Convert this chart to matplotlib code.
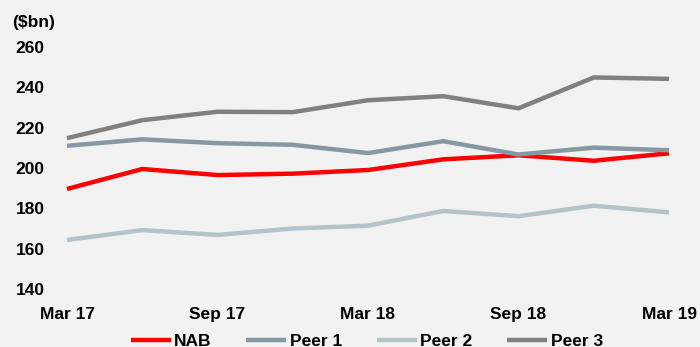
import numpy as np
import matplotlib.pyplot as plt

plt.rcParams['font.family'] = ['Liberation Sans', 'DejaVu Sans']
plt.rcParams['font.weight'] = 'bold'

# 데이터
periods = ['Mar 17', 'Jun 17', 'Sep 17', 'Dec 17', 'Mar 18', 'Jun 18', 'Sep 18', 'Dec 18', 'Mar 19']
nab = [189.6, 199.5, 196.5, 197.2, 199.0, 204.3, 206.3, 203.6, 207.3]
peer1 = [211.0, 214.2, 212.3, 211.5, 207.4, 213.3, 206.7, 210.1, 208.8]
peer2 = [164.3, 169.2, 166.8, 170.0, 171.4, 178.7, 176.1, 181.3, 178.0]
peer3 = [214.8, 223.7, 227.9, 227.7, 233.6, 235.6, 229.6, 244.9, 244.2]
tick_labels = ['Mar 17', 'Sep 17', 'Mar 18', 'Sep 18', 'Mar 19']
y_ticks = [140, 160, 180, 200, 220, 240, 260]

bg = '#f2f2f2'
fs = 12.5
fig = plt.figure(figsize=(7, 3.47), dpi=100, facecolor=bg)
ax = fig.add_axes([67 / 700, 1 - 289 / 347, (669 - 67) / 700, (289 - 47) / 347])
ax.set_facecolor(bg)

x = np.arange(len(periods))
series = [
    ('NAB', nab, '#ff0000'),
    ('Peer 1', peer1, '#8599a5'),
    ('Peer 2', peer2, '#b3c3ca'),
    ('Peer 3', peer3, '#808080'),
]
for name, vals, col in series:
    ax.plot(x, vals, color=col, lw=3.2, label=name, clip_on=False, solid_capstyle='butt')

ax.set_xlim(0, len(periods) - 1)
ax.set_ylim(140, 260)
ax.set_xticks(x[::2])
ax.set_xticklabels(tick_labels)
ax.set_yticks(y_ticks)
for s in ax.spines.values():
    s.set_visible(False)
ax.tick_params(length=0, labelsize=fs)
ax.tick_params(axis='x', pad=13)
ax.tick_params(axis='y', pad=16)

fig.text(12 / 700, 1 - 22 / 347, '($bn)', fontsize=fs, fontweight='bold', va='center', ha='left')

fig.legend(loc='center', bbox_to_anchor=(0.524, 1 - 341 / 347), ncol=4, frameon=False,
           fontsize=fs, handlelength=2.3, handletextpad=0.2, columnspacing=2.0)

plt.savefig('out.png', dpi=100, facecolor=bg)
